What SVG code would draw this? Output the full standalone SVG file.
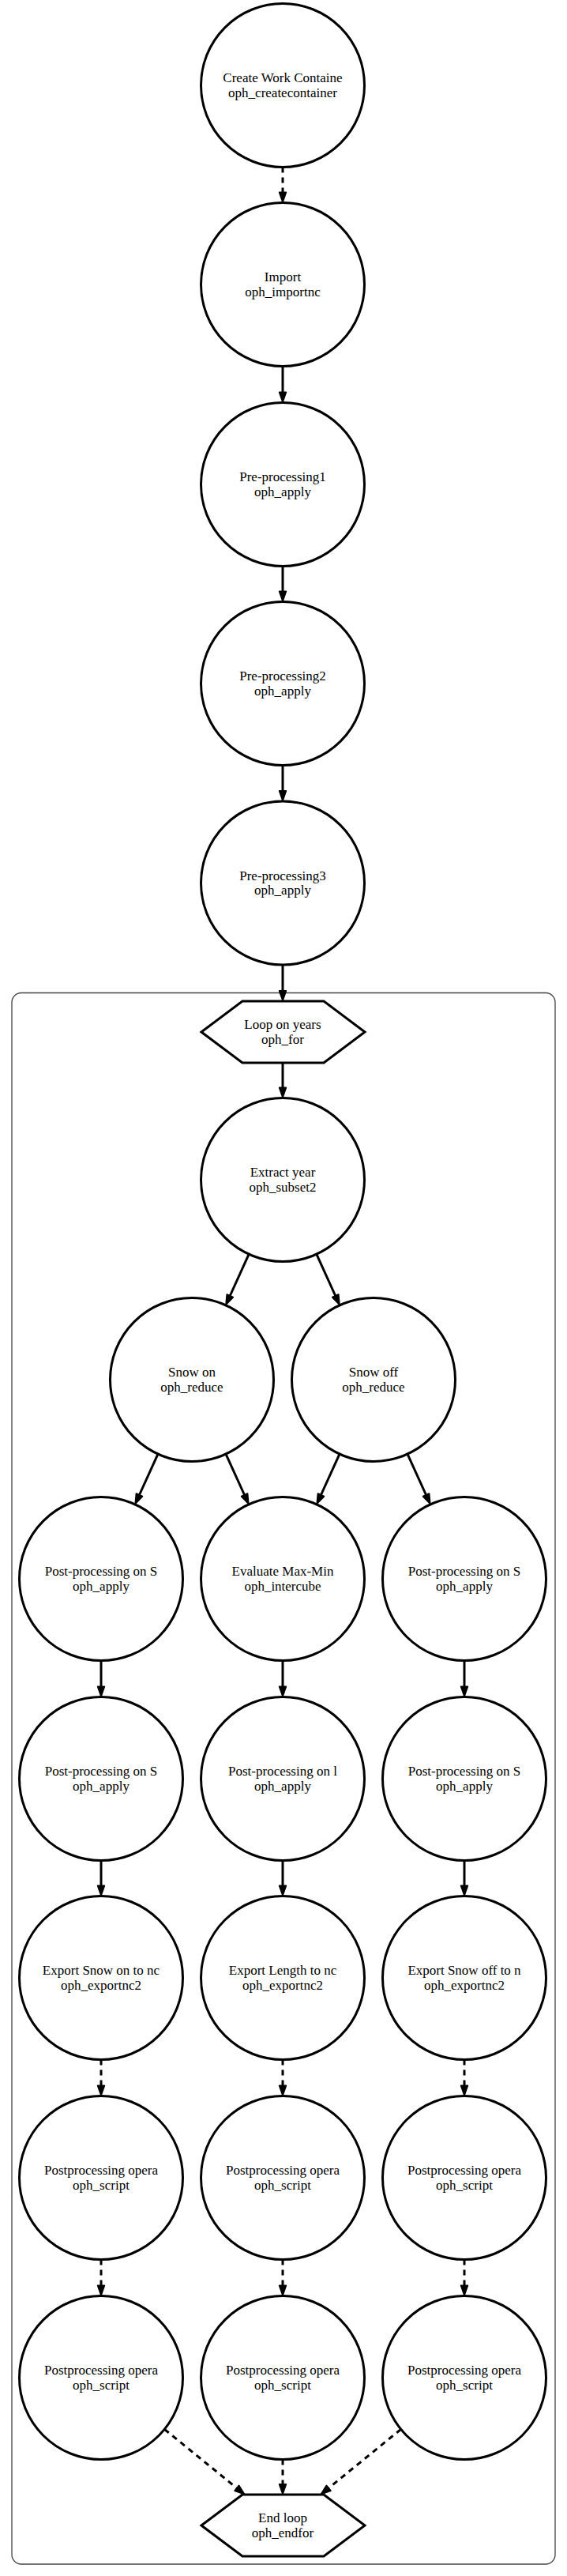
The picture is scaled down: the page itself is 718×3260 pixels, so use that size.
<svg xmlns="http://www.w3.org/2000/svg" width="718" height="3260" viewBox="0 0 718 3260">
<defs>
<style>
.n{fill:#fff;stroke:#000;stroke-width:3}
.t{font-family:"Liberation Serif","Times New Roman",serif;font-size:17px;fill:#000;text-anchor:middle}
.e{fill:none;stroke:#000;stroke-width:3}
.d{stroke-dasharray:7,6}
.cl{fill:none;stroke:#444;stroke-width:1.3}
</style>
<marker id="ah" markerUnits="userSpaceOnUse" markerWidth="20" markerHeight="14" viewBox="-2 -7 20 14" refX="0" refY="0" orient="auto" overflow="visible">
<path d="M0,-4.2 L12,0 L0,4.2 Z" fill="#000" stroke="#000" stroke-width="2" stroke-linejoin="round" stroke-dasharray="none"/>
</marker>
</defs>
<rect width="718" height="3260" fill="#fff"/>
<g id="cluster_loop">
<rect class="cl" x="15" y="1256.5" width="688" height="1988.5" rx="12" ry="12"/>
</g>
<g id="connectors">
<line class="e d" x1="358" y1="211.5" x2="358" y2="243.5" marker-end="url(#ah)"/>
<line class="e" x1="358" y1="463.5" x2="358" y2="496.5" marker-end="url(#ah)"/>
<line class="e" x1="358" y1="716.5" x2="358" y2="748.5" marker-end="url(#ah)"/>
<line class="e" x1="358" y1="968.5" x2="358" y2="1001" marker-end="url(#ah)"/>
<line class="e" x1="358" y1="1221" x2="358" y2="1254" marker-end="url(#ah)"/>
<line class="e" x1="358" y1="1345" x2="358" y2="1376.5" marker-end="url(#ah)"/>
<line class="e" x1="315.2" y1="1587.2" x2="291.2" y2="1640" marker-end="url(#ah)"/>
<line class="e" x1="400.8" y1="1587.2" x2="424.8" y2="1640" marker-end="url(#ah)"/>
<line class="e" x1="200" y1="1840.2" x2="176.4" y2="1892" marker-end="url(#ah)"/>
<line class="e" x1="286" y1="1840.2" x2="309.6" y2="1892" marker-end="url(#ah)"/>
<line class="e" x1="430" y1="1840.2" x2="406.4" y2="1892" marker-end="url(#ah)"/>
<line class="e" x1="516" y1="1840.2" x2="539.6" y2="1892" marker-end="url(#ah)"/>
<line class="e" x1="128" y1="2101.5" x2="128" y2="2134.5" marker-end="url(#ah)"/>
<line class="e" x1="358" y1="2101.5" x2="358" y2="2134.5" marker-end="url(#ah)"/>
<line class="e" x1="588" y1="2101.5" x2="588" y2="2134.5" marker-end="url(#ah)"/>
<line class="e" x1="128" y1="2354.5" x2="128" y2="2386.5" marker-end="url(#ah)"/>
<line class="e" x1="358" y1="2354.5" x2="358" y2="2386.5" marker-end="url(#ah)"/>
<line class="e" x1="588" y1="2354.5" x2="588" y2="2386.5" marker-end="url(#ah)"/>
<line class="e d" x1="128" y1="2606.5" x2="128" y2="2639.5" marker-end="url(#ah)"/>
<line class="e d" x1="358" y1="2606.5" x2="358" y2="2639.5" marker-end="url(#ah)"/>
<line class="e d" x1="588" y1="2606.5" x2="588" y2="2639.5" marker-end="url(#ah)"/>
<line class="e d" x1="128" y1="2859.5" x2="128" y2="2892.5" marker-end="url(#ah)"/>
<line class="e d" x1="358" y1="2859.5" x2="358" y2="2892.5" marker-end="url(#ah)"/>
<line class="e d" x1="588" y1="2859.5" x2="588" y2="2892.5" marker-end="url(#ah)"/>
<line class="e d" x1="208.3" y1="3074.3" x2="299.9" y2="3148.8" marker-end="url(#ah)"/>
<line class="e d" x1="358" y1="3112.5" x2="358" y2="3144" marker-end="url(#ah)"/>
<line class="e d" x1="507.7" y1="3074.3" x2="416.1" y2="3148.8" marker-end="url(#ah)"/>
</g>
<g id="create_container"><circle class="n" cx="358" cy="108" r="103.5"/><text class="t" x="358" y="104">Create Work Containe</text><text class="t" x="358" y="122.5">oph_createcontainer</text></g>
<g id="import"><circle class="n" cx="358" cy="360" r="103.5"/><text class="t" x="358" y="356">Import</text><text class="t" x="358" y="374.5">oph_importnc</text></g>
<g id="preprocessing1"><circle class="n" cx="358" cy="613" r="103.5"/><text class="t" x="358" y="609">Pre-processing1</text><text class="t" x="358" y="627.5">oph_apply</text></g>
<g id="preprocessing2"><circle class="n" cx="358" cy="865" r="103.5"/><text class="t" x="358" y="861">Pre-processing2</text><text class="t" x="358" y="879.5">oph_apply</text></g>
<g id="preprocessing3"><circle class="n" cx="358" cy="1117.5" r="103.5"/><text class="t" x="358" y="1113.5">Pre-processing3</text><text class="t" x="358" y="1132">oph_apply</text></g>
<g id="loop_years"><polygon class="n" points="255,1306 307,1267 410,1267 462,1306 410,1345 307,1345"/><text class="t" x="358" y="1302">Loop on years</text><text class="t" x="358" y="1320.5">oph_for</text></g>
<g id="extract_year"><circle class="n" cx="358" cy="1493" r="103.5"/><text class="t" x="358" y="1489">Extract year</text><text class="t" x="358" y="1507.5">oph_subset2</text></g>
<g id="snow_on"><circle class="n" cx="243" cy="1746" r="103.5"/><text class="t" x="243" y="1742">Snow on</text><text class="t" x="243" y="1760.5">oph_reduce</text></g>
<g id="snow_off"><circle class="n" cx="473" cy="1746" r="103.5"/><text class="t" x="473" y="1742">Snow off</text><text class="t" x="473" y="1760.5">oph_reduce</text></g>
<g id="post_snowon_1"><circle class="n" cx="128" cy="1998" r="103.5"/><text class="t" x="128" y="1994">Post-processing on S</text><text class="t" x="128" y="2012.5">oph_apply</text></g>
<g id="evaluate_maxmin"><circle class="n" cx="358" cy="1998" r="103.5"/><text class="t" x="358" y="1994">Evaluate Max-Min</text><text class="t" x="358" y="2012.5">oph_intercube</text></g>
<g id="post_snowoff_1"><circle class="n" cx="588" cy="1998" r="103.5"/><text class="t" x="588" y="1994">Post-processing on S</text><text class="t" x="588" y="2012.5">oph_apply</text></g>
<g id="post_snowon_2"><circle class="n" cx="128" cy="2251" r="103.5"/><text class="t" x="128" y="2247">Post-processing on S</text><text class="t" x="128" y="2265.5">oph_apply</text></g>
<g id="post_length"><circle class="n" cx="358" cy="2251" r="103.5"/><text class="t" x="358" y="2247">Post-processing on l</text><text class="t" x="358" y="2265.5">oph_apply</text></g>
<g id="post_snowoff_2"><circle class="n" cx="588" cy="2251" r="103.5"/><text class="t" x="588" y="2247">Post-processing on S</text><text class="t" x="588" y="2265.5">oph_apply</text></g>
<g id="export_snowon"><circle class="n" cx="128" cy="2503" r="103.5"/><text class="t" x="128" y="2499">Export Snow on to nc</text><text class="t" x="128" y="2517.5">oph_exportnc2</text></g>
<g id="export_length"><circle class="n" cx="358" cy="2503" r="103.5"/><text class="t" x="358" y="2499">Export Length to nc</text><text class="t" x="358" y="2517.5">oph_exportnc2</text></g>
<g id="export_snowoff"><circle class="n" cx="588" cy="2503" r="103.5"/><text class="t" x="588" y="2499">Export Snow off to n</text><text class="t" x="588" y="2517.5">oph_exportnc2</text></g>
<g id="script_1a"><circle class="n" cx="128" cy="2756" r="103.5"/><text class="t" x="128" y="2752">Postprocessing opera</text><text class="t" x="128" y="2770.5">oph_script</text></g>
<g id="script_2a"><circle class="n" cx="358" cy="2756" r="103.5"/><text class="t" x="358" y="2752">Postprocessing opera</text><text class="t" x="358" y="2770.5">oph_script</text></g>
<g id="script_3a"><circle class="n" cx="588" cy="2756" r="103.5"/><text class="t" x="588" y="2752">Postprocessing opera</text><text class="t" x="588" y="2770.5">oph_script</text></g>
<g id="script_1b"><circle class="n" cx="128" cy="3009" r="103.5"/><text class="t" x="128" y="3005">Postprocessing opera</text><text class="t" x="128" y="3023.5">oph_script</text></g>
<g id="script_2b"><circle class="n" cx="358" cy="3009" r="103.5"/><text class="t" x="358" y="3005">Postprocessing opera</text><text class="t" x="358" y="3023.5">oph_script</text></g>
<g id="script_3b"><circle class="n" cx="588" cy="3009" r="103.5"/><text class="t" x="588" y="3005">Postprocessing opera</text><text class="t" x="588" y="3023.5">oph_script</text></g>
<g id="end_loop"><polygon class="n" points="255,3196 307,3157 410,3157 462,3196 410,3235 307,3235"/><text class="t" x="358" y="3192">End loop</text><text class="t" x="358" y="3210.5">oph_endfor</text></g>
</svg>
